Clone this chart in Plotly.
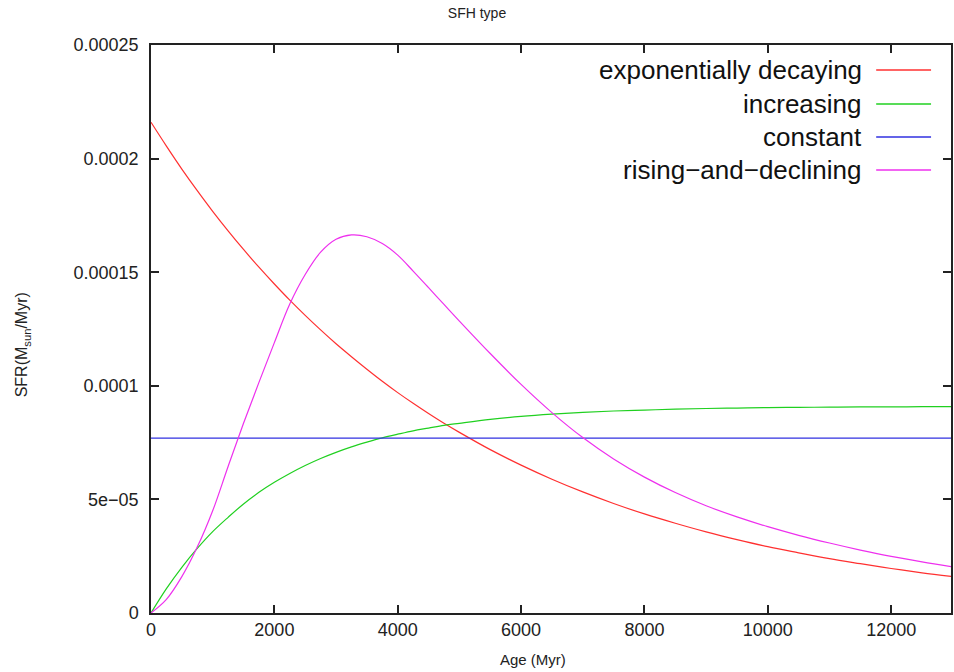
import plotly.graph_objects as go

# Age grid (Myr)
age = [0, 250, 500, 750, 1000, 1250, 1500, 1750, 2000, 2250, 2500, 2750, 3000, 3250,
       3500, 3750, 4000, 4250, 4500, 4750, 5000, 5500, 6000, 6500, 7000, 7500, 8000,
       8500, 9000, 9500, 10000, 10500, 11000, 11500, 12000, 12500, 13000]

# Series values (1e-6 M_sun/Myr)
exp_decay_u = [216, 205.5, 195.4, 185.9, 176.8, 168.2, 160.0, 152.2, 144.8, 137.7, 131.0,
               124.6, 118.5, 112.8, 107.3, 102.0, 97.0, 92.3, 87.8, 83.5, 79.5, 71.9, 65.1,
               58.9, 53.3, 48.2, 43.6, 39.5, 35.7, 32.3, 29.2, 26.5, 23.9, 21.7, 19.6, 17.7, 16.0]
increasing_u = [0, 10.7, 20.1, 28.4, 35.8, 42.1, 48.0, 53.1, 57.5, 61.4, 64.9, 68.0, 70.7,
                73.1, 75.2, 77.1, 78.7, 80.2, 81.4, 82.6, 83.5, 85.2, 86.5, 87.5, 88.3, 88.9,
                89.3, 89.7, 90.0, 90.2, 90.4, 90.5, 90.6, 90.7, 90.7, 90.8, 90.8]
constant_u = [77.0] * len(age)
rise_decline_u = [0, 6, 16, 29, 45, 64.5, 83.5, 101.5, 119, 136, 149, 158.8, 164.5, 166.4,
                  165.6, 162.6, 157.5, 150.5, 143.2, 135.8, 128.5, 114.2, 100.6, 88.2, 77.2,
                  67.8, 59.8, 53, 47.2, 42.3, 38.0, 34.2, 30.8, 27.7, 24.9, 22.5, 20.3]

scale = 1e-6
series_names = ["exponentially decaying", "increasing", "constant", "rising\u2212and\u2212declining"]
series_vals = [exp_decay_u, increasing_u, constant_u, rise_decline_u]
series_colors = ["#ff3030", "#20d020", "#3030e0", "#ee30ee"]

x_ticks = [0, 2000, 4000, 6000, 8000, 10000, 12000]
y_ticks = [0, 5e-5, 1e-4, 1.5e-4, 2e-4, 2.5e-4]
y_tick_text = ["0", "5e\u221205", "0.0001", "0.00015", "0.0002", "0.00025"]

W, H = 954, 672
L, R, T, B = 151, 1, 45, 59
pw = W - L - R
ph = H - T - B

fig = go.Figure()
for name, vals, col in zip(series_names, series_vals, series_colors):
    fig.add_trace(go.Scatter(x=age, y=[v * scale for v in vals], mode="lines", name=name,
                             line=dict(color=col, width=1.2, shape="spline", smoothing=1.0),
                             showlegend=False))

font_family = "Liberation Sans, Arial, sans-serif"

# Custom legend (text on the left, line sample on the right, gnuplot style)
leg_y_px = [70, 104, 137, 170]
annotations = []
shapes = []
for name, col, ypx in zip(series_names, series_colors, leg_y_px):
    yp = (H - B - ypx) / ph
    annotations.append(dict(xref="paper", yref="paper", x=(866 - L) / pw, y=yp,
                            text=name, showarrow=False, xanchor="right", yanchor="middle",
                            font=dict(size=26, color="#111", family=font_family)))
    shapes.append(dict(type="line", xref="paper", yref="paper",
                       x0=(878 - L) / pw, x1=(933 - L) / pw, y0=yp, y1=yp,
                       line=dict(color=col, width=1.3)))

# Axis titles
annotations.append(dict(xref="paper", yref="paper", x=(534 - L) / pw, y=(H - B - 659) / ph,
                        text="Age (Myr)", showarrow=False, xanchor="center", yanchor="middle",
                        font=dict(size=15, color="#222", family=font_family)))
annotations.append(dict(xref="paper", yref="paper", x=(22 - L) / pw, y=(H - B - 345) / ph,
                        text="SFR(M<sub>sun</sub>/Myr)", showarrow=False, textangle=-90,
                        xanchor="center", yanchor="middle",
                        font=dict(size=16, color="#222", family=font_family)))

fig.update_layout(
    width=W, height=H,
    margin=dict(l=L, r=R, t=T, b=B),
    paper_bgcolor="white", plot_bgcolor="white",
    title=dict(text="SFH type", x=0.5, xref="container", xanchor="center",
               y=1 - 13 / H, yref="container", yanchor="middle",
               font=dict(size=14, color="#222", family=font_family)),
    annotations=annotations,
    shapes=shapes,
    xaxis=dict(range=[0, 12970], tickvals=x_ticks, ticktext=[str(v) for v in x_ticks],
               showgrid=False, zeroline=False, showline=True, linecolor="#222", linewidth=1.5,
               mirror="ticks", ticks="inside", ticklen=8, tickwidth=1.5, tickcolor="#222",
               tickfont=dict(size=18, color="#222", family=font_family)),
    yaxis=dict(range=[0, 2.5e-4], tickvals=y_ticks, ticktext=y_tick_text,
               showgrid=False, zeroline=False, showline=True, linecolor="#222", linewidth=1.5,
               mirror="ticks", ticks="inside", ticklen=8, tickwidth=1.5, tickcolor="#222",
               ticklabelstandoff=7,
               tickfont=dict(size=18, color="#222", family=font_family)),
)

fig.write_html("out.html")
